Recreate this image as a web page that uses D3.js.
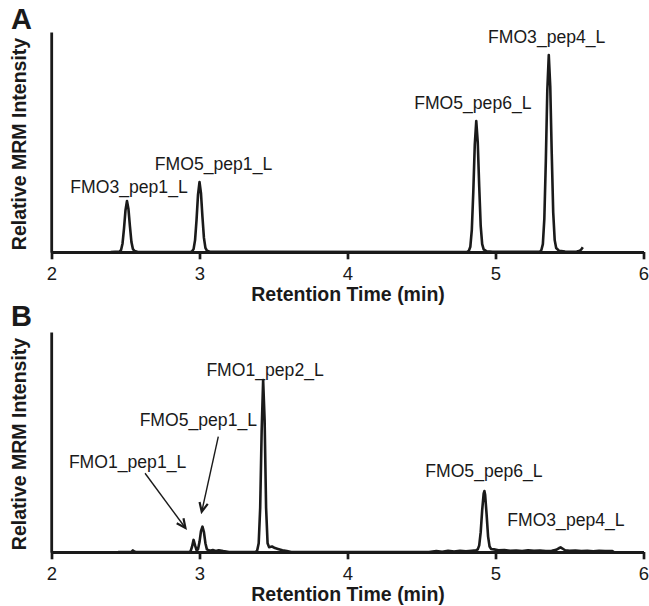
<!DOCTYPE html>
<html>
<head>
<meta charset="utf-8">
<script src="https://cdn.jsdelivr.net/npm/d3@7"></script>
<style>
  html, body { margin: 0; padding: 0; background: #fff; }
  svg { display: block; }
  text { font-family: "Liberation Sans", Arial, Helvetica, sans-serif; fill: #1a1a1a; }
</style>
</head>
<body>
<svg id="chart" width="649" height="606"></svg>
<script>
// Retention-time ticks (min)
const timeTicks = [2, 3, 4, 5, 6];

// Panel A trace: [retention time (min), relative MRM intensity]
const traceA = [
  [2.40, 0], [2.46, 0.002], [2.47, 0.009], [2.48, 0.039], [2.49, 0.107], [2.50, 0.19],
  [2.51, 0.232], [2.52, 0.195], [2.53, 0.116], [2.54, 0.046], [2.55, 0.014], [2.56, 0.005],
  [2.58, 0.001], [2.94, 0], [2.95, 0.003], [2.96, 0.013], [2.97, 0.054], [2.98, 0.146],
  [2.99, 0.261], [3.00, 0.318], [3.01, 0.267], [3.02, 0.159], [3.03, 0.064], [3.04, 0.019],
  [3.05, 0.006], [3.07, 0.001], [4.80, 0], [4.81, 0.001], [4.82, 0.006], [4.83, 0.024],
  [4.84, 0.101], [4.85, 0.274], [4.86, 0.488], [4.87, 0.595], [4.88, 0.50], [4.89, 0.298],
  [4.90, 0.119], [4.91, 0.036], [4.92, 0.012], [4.94, 0.003], [4.98, 0.001], [5.30, 0.001],
  [5.31, 0.009], [5.32, 0.036], [5.33, 0.152], [5.34, 0.412], [5.35, 0.734], [5.36, 0.895],
  [5.37, 0.752], [5.38, 0.448], [5.39, 0.179], [5.40, 0.054], [5.41, 0.018], [5.43, 0.005],
  [5.47, 0.002], [5.52, 0.001], [5.55, 0.002], [5.57, 0.006], [5.58, 0.012], [5.59, 0.022]
];

// Panel B trace: [retention time (min), relative MRM intensity]
const traceB = [
  [2.45, 0], [2.54, 0], [2.55, 0.007], [2.56, 0.002], [2.57, 0], [2.93, 0], [2.94, 0.004],
  [2.95, 0.025], [2.96, 0.055], [2.97, 0.03], [2.98, 0.008], [2.99, 0.012], [3.00, 0.045],
  [3.01, 0.095], [3.02, 0.115], [3.03, 0.09], [3.04, 0.04], [3.05, 0.012], [3.07, 0.006],
  [3.09, 0.009], [3.11, 0.005], [3.13, 0.008], [3.16, 0.004], [3.20, 0], [3.38, 0],
  [3.39, 0.008], [3.40, 0.04], [3.41, 0.2], [3.42, 0.55], [3.43, 0.782], [3.44, 0.6],
  [3.45, 0.2], [3.46, 0.04], [3.47, 0.022], [3.49, 0.025], [3.51, 0.018], [3.53, 0.014],
  [3.56, 0.008], [3.59, 0.004], [3.62, 0], [4.55, 0], [4.60, 0.004], [4.64, 0.001],
  [4.68, 0.006], [4.72, 0.002], [4.76, 0.006], [4.80, 0.003], [4.84, 0.006], [4.87, 0.008],
  [4.88, 0.012], [4.89, 0.03], [4.90, 0.09], [4.91, 0.19], [4.92, 0.265], [4.925, 0.277],
  [4.93, 0.26], [4.94, 0.17], [4.95, 0.07], [4.96, 0.025], [4.97, 0.014], [4.99, 0.012],
  [5.02, 0.008], [5.06, 0.009], [5.10, 0.005], [5.14, 0.007], [5.18, 0.004], [5.22, 0.008],
  [5.26, 0.005], [5.30, 0.007], [5.34, 0.004], [5.38, 0.006], [5.41, 0.01], [5.43, 0.018],
  [5.44, 0.021], [5.45, 0.017], [5.47, 0.008], [5.50, 0.005], [5.54, 0.007], [5.58, 0.004],
  [5.62, 0.006], [5.66, 0.003], [5.70, 0.006], [5.74, 0.004], [5.79, 0.004], [5.80, 0]
];

// Peak labels: text, anchor time, anchor intensity (text baseline centre)
const labelsA = [
  { text: "FMO3_pep1_L", t: 2.524, v: 0.268 },
  { text: "FMO5_pep1_L", t: 3.095, v: 0.373 },
  { text: "FMO5_pep6_L", t: 4.847, v: 0.650 },
  { text: "FMO3_pep4_L", t: 5.346, v: 0.950 }
];
const labelsB = [
  { text: "FMO1_pep2_L", t: 3.443, v: 0.800 },
  { text: "FMO5_pep1_L", t: 2.992, v: 0.573 },
  { text: "FMO1_pep1_L", t: 2.514, v: 0.382 },
  { text: "FMO5_pep6_L", t: 4.922, v: 0.343 },
  { text: "FMO3_pep4_L", t: 5.476, v: 0.118 }
];

// Arrows pointing at the small co-eluting peaks in panel B: tail -> tip
const arrowsB = [
  { t0: 3.127, v0: 0.524, t1: 3.015, v1: 0.183 },
  { t0: 2.632, v0: 0.358, t1: 2.905, v1: 0.109 }
];

const panels = [
  { letter: "A", top: 32, trace: traceA, labels: labelsA, arrows: [] },
  { letter: "B", top: 332, trace: traceB, labels: labelsB, arrows: arrowsB }
];

const svg = d3.select("#chart");
const plotH = 220;
const x = d3.scaleLinear().domain([2, 6]).range([51.5, 643.5]);

svg.append("defs").append("marker")
  .attr("id", "vhead")
  .attr("markerUnits", "userSpaceOnUse")
  .attr("viewBox", "-11 -6 13 12")
  .attr("refX", 0).attr("refY", 0)
  .attr("markerWidth", 13).attr("markerHeight", 12)
  .attr("orient", "auto")
  .append("path")
  .attr("d", "M-9,-4.2L0,0L-9,4.2")
  .attr("fill", "none")
  .attr("stroke", "#1a1a1a")
  .attr("stroke-width", 2.2)
  .attr("stroke-linejoin", "miter");

panels.forEach(p => {
  const y = d3.scaleLinear().domain([0, 1]).range([p.top + plotH, p.top]);
  const g = svg.append("g");

  // chromatogram trace
  const line = d3.line().x(d => x(d[0])).y(d => y(d[1]));
  g.append("path")
    .datum(p.trace)
    .attr("d", line)
    .attr("fill", "none")
    .attr("stroke", "#1a1a1a")
    .attr("stroke-width", 2.6)
    .attr("stroke-linejoin", "round");

  // y axis (no ticks)
  const yAxis = g.append("g")
    .attr("transform", `translate(${x(2) - 0.3},0)`)
    .call(d3.axisLeft(y).tickValues([]).tickSizeOuter(0));
  yAxis.select(".domain").attr("stroke", "#1a1a1a").attr("stroke-width", 2.8);

  // x axis; tick-label baselines sit ~27.5px below the axis line
  const xAxis = g.append("g")
    .attr("transform", `translate(0,${p.top + plotH})`)
    .call(d3.axisBottom(x).tickValues(timeTicks).tickFormat(d3.format("d"))
      .tickSize(7.3).tickPadding(20.2).tickSizeOuter(0));
  xAxis.attr("font-size", 18.5).attr("font-family", '"Liberation Sans", Arial, sans-serif');
  xAxis.select(".domain").attr("stroke", "#1a1a1a").attr("stroke-width", 2.8);
  xAxis.selectAll(".tick line").attr("stroke", "#1a1a1a").attr("stroke-width", 2.7);
  xAxis.selectAll(".tick text")
    .attr("fill", "#1a1a1a")
    .attr("dy", "0")
    .style("font-size", "18.5px");

  // axis titles
  g.append("text")
    .attr("x", (x(2) + x(6)) / 2 + 0.5)
    .attr("y", p.top + plotH + 49)
    .attr("text-anchor", "middle")
    .style("font-size", "19.5px")
    .style("font-weight", "bold")
    .text("Retention Time (min)");

  g.append("text")
    .attr("transform", `translate(26,${p.top + 112}) rotate(-90)`)
    .attr("text-anchor", "middle")
    .style("font-size", "19.5px")
    .style("font-weight", "bold")
    .text("Relative MRM Intensity");

  // panel letter
  g.append("text")
    .attr("x", 11)
    .attr("y", p.top - 3.5 - (p.letter === "B" ? 3 : 0))
    .style("font-size", "29px")
    .style("font-weight", "bold")
    .text(p.letter);

  // peak labels
  g.selectAll(".peak-label")
    .data(p.labels)
    .join("text")
    .attr("class", "peak-label")
    .attr("x", d => x(d.t))
    .attr("y", d => y(d.v))
    .attr("text-anchor", "middle")
    .style("font-size", "17.6px")
    .text(d => d.text);

  // arrows
  g.selectAll(".arrow")
    .data(p.arrows)
    .join("line")
    .attr("class", "arrow")
    .attr("x1", d => x(d.t0)).attr("y1", d => y(d.v0))
    .attr("x2", d => x(d.t1)).attr("y2", d => y(d.v1))
    .attr("stroke", "#1a1a1a")
    .attr("stroke-width", 1.4)
    .attr("marker-end", "url(#vhead)");
});
</script>
</body>
</html>
